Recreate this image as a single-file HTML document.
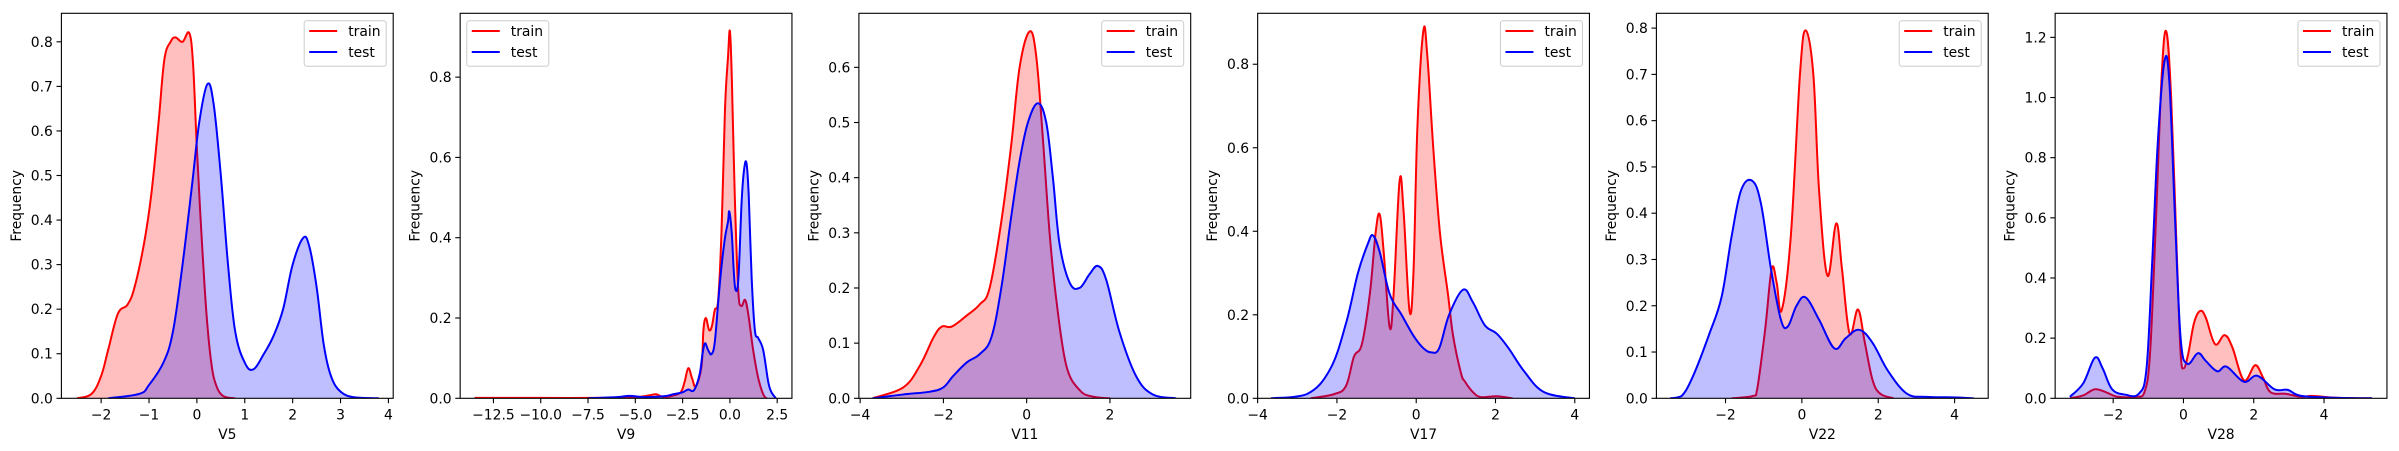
<!DOCTYPE html>
<html><head><meta charset="utf-8">
<style>
html,body{margin:0;padding:0;background:#fff;}
svg{display:block;font-family:"DejaVu Sans","Liberation Sans",sans-serif;}
</style></head>
<body>
<svg id="fig" width="2399" height="451" viewBox="0 0 2399 451" xmlns="http://www.w3.org/2000/svg"></svg>
<script>
// ---- data ----
const panelNames = ["V5","V9","V11","V17","V22","V28"];
const seriesNames = ["train","test"];

const v5TrainX = [-2.5,-2.2,-2.0,-1.85,-1.65,-1.45,-1.3,-1.1,-0.95,-0.8,-0.68,-0.55,-0.45,-0.3,-0.16,-0.08,0.0,0.1,0.2,0.3,0.4,0.55,0.8];
const v5TrainY = [0,0.01,0.05,0.11,0.19,0.21,0.25,0.35,0.46,0.62,0.76,0.80,0.81,0.80,0.82,0.75,0.56,0.36,0.19,0.08,0.03,0.005,0];
const v5TestX = [-1.85,-1.2,-1.0,-0.7,-0.5,-0.3,-0.1,0.05,0.22,0.35,0.5,0.65,0.8,1.0,1.18,1.4,1.6,1.8,2.0,2.22,2.35,2.5,2.65,2.8,3.0,3.3,3.8];
const v5TestY = [0,0.01,0.03,0.08,0.15,0.3,0.48,0.62,0.705,0.66,0.5,0.3,0.15,0.08,0.065,0.1,0.14,0.2,0.3,0.36,0.34,0.25,0.12,0.05,0.015,0.002,0];

const v9TrainX = [-13.5,-10,-7.5,-5,-4.2,-3.9,-3.5,-3,-2.6,-2.4,-2.2,-2.0,-1.8,-1.5,-1.4,-1.27,-1.1,-0.95,-0.8,-0.62,-0.44,-0.26,-0.1,0.0,0.1,0.26,0.44,0.6,0.8,0.97,1.23,1.5,1.76,1.94];
const v9TrainY = [0.001,0.001,0.001,0.003,0.008,0.01,0.003,0.007,0.015,0.04,0.075,0.05,0.03,0.08,0.17,0.2,0.17,0.18,0.22,0.245,0.42,0.72,0.85,0.915,0.8,0.5,0.27,0.23,0.245,0.21,0.12,0.05,0.01,0];
const v9TestX = [-7.5,-6,-5.3,-4.5,-3.5,-3,-2.5,-2.2,-1.9,-1.6,-1.45,-1.32,-1.15,-0.97,-0.8,-0.6,-0.44,-0.26,-0.1,-0.03,0.1,0.2,0.3,0.45,0.62,0.75,0.88,1.0,1.15,1.32,1.5,1.76,2.03,2.2,2.43];
const v9TestY = [0,0.003,0.006,0.003,0.005,0.01,0.015,0.022,0.02,0.06,0.11,0.137,0.12,0.11,0.14,0.25,0.33,0.4,0.44,0.465,0.41,0.32,0.27,0.3,0.49,0.57,0.585,0.5,0.3,0.17,0.15,0.12,0.04,0.015,0];

const v11TrainX = [-3.7,-2.96,-2.56,-2.24,-2.04,-1.8,-1.44,-1.13,-0.89,-0.61,-0.37,-0.17,0.07,0.23,0.39,0.55,0.71,0.95,1.27,1.59,2.0];
const v11TrainY = [0,0.02,0.06,0.11,0.13,0.13,0.15,0.17,0.2,0.32,0.46,0.6,0.665,0.62,0.47,0.3,0.18,0.06,0.015,0.003,0];
const v11TestX = [-3.7,-2.96,-2.32,-2.0,-1.77,-1.44,-1.13,-0.85,-0.61,-0.37,-0.17,0.03,0.27,0.47,0.63,0.79,1.03,1.27,1.51,1.71,1.91,2.23,2.63,3.03,3.59];
const v11TestY = [0,0.007,0.012,0.02,0.04,0.065,0.08,0.11,0.2,0.33,0.43,0.5,0.535,0.5,0.4,0.28,0.21,0.2,0.225,0.24,0.215,0.12,0.04,0.007,0];

const v17TrainX = [-2.67,-2.07,-1.77,-1.57,-1.37,-1.17,-1.02,-0.92,-0.82,-0.67,-0.57,-0.42,-0.32,-0.17,-0.07,0.03,0.18,0.28,0.43,0.6,0.8,0.93,1.13,1.23,1.43,1.63,2.03,2.43];
const v17TrainY = [0,0.01,0.03,0.1,0.13,0.25,0.4,0.44,0.35,0.17,0.25,0.52,0.45,0.21,0.3,0.65,0.88,0.82,0.6,0.395,0.25,0.15,0.06,0.04,0.015,0.003,0.005,0];
const v17TestX = [-3.66,-2.76,-2.17,-1.77,-1.47,-1.22,-1.09,-0.92,-0.67,-0.37,-0.07,0.18,0.38,0.58,0.83,1.18,1.43,1.73,2.03,2.33,2.72,3.22,4.0];
const v17TestY = [0,0.01,0.07,0.18,0.3,0.37,0.39,0.35,0.25,0.2,0.15,0.12,0.11,0.12,0.2,0.26,0.23,0.175,0.155,0.12,0.065,0.015,0];

const v22TrainX = [-1.84,-1.28,-1.17,-0.96,-0.79,-0.66,-0.53,-0.29,-0.05,0.1,0.3,0.45,0.67,0.9,1.05,1.25,1.47,1.65,1.85,2.05,2.4];
const v22TrainY = [0,0.005,0.02,0.15,0.28,0.25,0.19,0.35,0.7,0.795,0.7,0.45,0.265,0.378,0.28,0.14,0.192,0.12,0.04,0.01,0];
const v22TestX = [-3.45,-3.15,-2.84,-2.42,-2.1,-1.84,-1.59,-1.3,-1.07,-0.81,-0.55,-0.37,-0.14,0.1,0.45,0.85,1.15,1.5,1.85,2.25,2.75,3.26,3.96,4.5];
const v22TestY = [0,0.005,0.05,0.14,0.22,0.35,0.45,0.47,0.42,0.28,0.17,0.155,0.2,0.218,0.17,0.108,0.13,0.148,0.12,0.06,0.01,0.003,0.002,0];

const v28TrainX = [-3.23,-2.85,-2.52,-2.2,-1.87,-1.33,-1.11,-0.95,-0.78,-0.62,-0.49,-0.35,-0.18,-0.08,0.01,0.14,0.3,0.47,0.63,0.9,1.17,1.39,1.72,2.04,2.26,2.48,2.91,3.35,3.67,4.33,5.36];
const v28TrainY = [0,0.01,0.03,0.02,0.005,0.005,0.02,0.15,0.6,1.07,1.22,1.0,0.45,0.15,0.1,0.15,0.25,0.29,0.27,0.18,0.21,0.17,0.06,0.11,0.07,0.02,0.015,0.005,0.008,0.002,0];
const v28TestX = [-3.23,-2.85,-2.52,-2.3,-2.03,-1.65,-1.27,-1.05,-0.89,-0.73,-0.54,-0.4,-0.24,-0.08,0.11,0.41,0.63,0.96,1.23,1.72,2.1,2.59,2.97,3.35,4.33,5.36];
const v28TestY = [0.005,0.05,0.135,0.1,0.03,0.012,0.015,0.1,0.45,0.85,1.12,1.05,0.6,0.2,0.115,0.15,0.125,0.09,0.105,0.055,0.075,0.03,0.028,0.008,0.002,0];

const v5XTicks = [-2,-1,0,1,2,3,4];
const v9XTicks = [-12.5,-10,-7.5,-5,-2.5,0,2.5];
const v11XTicks = [-4,-2,0,2];
const v17XTicks = [-4,-2,0,2,4];
const v22XTicks = [-2,0,2,4];
const v28XTicks = [-2,0,2,4];
const v5YTicks = [0,0.1,0.2,0.3,0.4,0.5,0.6,0.7,0.8];
const v9YTicks = [0,0.2,0.4,0.6,0.8];
const v11YTicks = [0,0.1,0.2,0.3,0.4,0.5,0.6];
const v17YTicks = [0,0.2,0.4,0.6,0.8];
const v22YTicks = [0,0.1,0.2,0.3,0.4,0.5,0.6,0.7,0.8];
const v28YTicks = [0,0.2,0.4,0.6,0.8,1.0,1.2];
const xDecimals = [0,1,0,0,0,0];
const yDecimals = [1,1,1,1,1,1];
const xLimits = [[-2.83,4.10],[-14.26,3.28],[-4.03,3.94],[-4.0,4.37],[-3.81,4.88],[-3.65,5.79]];
const yLimits = [[0,0.864],[0,0.959],[0,0.698],[0,0.922],[0,0.832],[0,1.28]];

const panels = [
 {tx:v5TrainX,ty:v5TrainY,sx:v5TestX,sy:v5TestY,xt:v5XTicks,yt:v5YTicks,legendLeft:false},
 {tx:v9TrainX,ty:v9TrainY,sx:v9TestX,sy:v9TestY,xt:v9XTicks,yt:v9YTicks,legendLeft:true},
 {tx:v11TrainX,ty:v11TrainY,sx:v11TestX,sy:v11TestY,xt:v11XTicks,yt:v11YTicks,legendLeft:false},
 {tx:v17TrainX,ty:v17TrainY,sx:v17TestX,sy:v17TestY,xt:v17XTicks,yt:v17YTicks,legendLeft:false},
 {tx:v22TrainX,ty:v22TrainY,sx:v22TestX,sy:v22TestY,xt:v22XTicks,yt:v22YTicks,legendLeft:false},
 {tx:v28TrainX,ty:v28TrainY,sx:v28TestX,sy:v28TestY,xt:v28XTicks,yt:v28YTicks,legendLeft:false}
];

// ---- layout ----
const NS = "http://www.w3.org/2000/svg";
const svg = document.getElementById("fig");
const AX_TOP = 13.3, AX_BOT = 398.3, AX_W = 331.8, AX_L0 = 61.4, AX_STEP = 398.75;
function mk(tag, attrs, parent){ const e=document.createElementNS(NS,tag); for(const k in attrs) e.setAttribute(k,attrs[k]); (parent||svg).appendChild(e); return e; }
function fmt(v,d){ const s=v.toFixed(d); return s.replace("-","\u2212"); }
function smoothPath(pts){
  let d = "M"+pts[0][0].toFixed(2)+","+pts[0][1].toFixed(2);
  for(let i=0;i<pts.length-1;i++){
    const p0=pts[Math.max(0,i-1)],p1=pts[i],p2=pts[i+1],p3=pts[Math.min(pts.length-1,i+2)];
    const t=0.18;
    let c1y=p1[1]+(p2[1]-p0[1])*t, c2y=p2[1]-(p3[1]-p1[1])*t;
    c1y=Math.min(c1y,AX_BOT); c2y=Math.min(c2y,AX_BOT);
    d+=" C"+(p1[0]+(p2[0]-p0[0])*t).toFixed(2)+","+c1y.toFixed(2)+" "+(p2[0]-(p3[0]-p1[0])*t).toFixed(2)+","+c2y.toFixed(2)+" "+p2[0].toFixed(2)+","+p2[1].toFixed(2);
  }
  return d;
}

panels.forEach((p,i)=>{
  const L = AX_L0 + AX_STEP*i, R = L+AX_W;
  const [x0,x1]=xLimits[i], [y0,y1]=yLimits[i];
  const sx = v => L + (v-x0)/(x1-x0)*AX_W;
  const sy = v => AX_BOT - (v-y0)/(y1-y0)*(AX_BOT-AX_TOP);
  const g = mk("g",{});
  
  
  const clip = mk("clipPath",{id:"clip"+i},g);
  mk("rect",{x:L,y:AX_TOP,width:AX_W,height:AX_BOT-AX_TOP},clip);
  const plot = mk("g",{"clip-path":"url(#clip"+i+")"},g);
  [[p.tx,p.ty,"#ff0000",0],[p.sx,p.sy,"#0000ff",1]].forEach(([xs,ys,col,k])=>{
    const pts = xs.map((x,j)=>[sx(x),sy(ys[j])]);
    const line = smoothPath(pts);
    const fill = mk("path",{d:line+" L"+pts[pts.length-1][0].toFixed(2)+","+sy(0).toFixed(2)+" L"+pts[0][0].toFixed(2)+","+sy(0).toFixed(2)+" Z",fill:col,"fill-opacity":"0.25",stroke:"none"},plot);
    
    
    const ln = mk("path",{d:line,fill:"none",stroke:col,"stroke-width":"2","stroke-linejoin":"round"},plot);
    
    
  });
  // frame
  const fr = mk("rect",{x:L,y:AX_TOP,width:AX_W,height:AX_BOT-AX_TOP,fill:"none",stroke:"#000","stroke-width":"1.1"},g);
  
  
  // x ticks
  p.xt.forEach(v=>{
    const x=sx(v);
    mk("line",{x1:x,y1:AX_BOT,x2:x,y2:AX_BOT+4.9,stroke:"#000","stroke-width":"1.1"},g);
    const t=mk("text",{x:x,y:419.5,"font-size":"13.9","text-anchor":"middle",fill:"#000"},g);
    t.textContent=fmt(v,xDecimals[i]);
    
    
  });
  // y ticks
  p.yt.forEach(v=>{
    const y=sy(v);
    mk("line",{x1:L-4.9,y1:y,x2:L,y2:y,stroke:"#000","stroke-width":"1.1"},g);
    const t=mk("text",{x:L-8.5,y:y+5,"font-size":"13.9","text-anchor":"end",fill:"#000"},g);
    t.textContent=fmt(v,yDecimals[i]);
    
    
  });
  const xl=mk("text",{x:L+AX_W/2,y:439,"font-size":"13.9","text-anchor":"middle",fill:"#000"},g);
  xl.textContent=panelNames[i];
  
  
  const yc=(AX_TOP+AX_BOT)/2, yx=L-40.5;
  const yl=mk("text",{x:yx,y:yc,"font-size":"13.9","text-anchor":"middle",fill:"#000",transform:"rotate(-90 "+yx+" "+yc+")"},g);
  yl.textContent="Frequency";
  
  
  // legend
  const bx = p.legendLeft ? L+6.6 : R-89;
  const lg = mk("g",{},g);
  
  
  mk("rect",{x:bx,y:20.7,width:82,height:45.5,rx:2.5,fill:"#fff","fill-opacity":"0.8",stroke:"#cccccc","stroke-width":"1"},lg);
  seriesNames.forEach((n,k)=>{
    const ly = 31 + 21*k;
    const e = mk("g",{},lg);
    
    
    mk("line",{x1:bx+5,y1:ly,x2:bx+33,y2:ly,stroke:k?"#0000ff":"#ff0000","stroke-width":"2"},e);
    const t=mk("text",{x:bx+44,y:ly+5,"font-size":"13.9",fill:"#000"},e);
    t.textContent=n;
  });
});
</script>
</body></html>
